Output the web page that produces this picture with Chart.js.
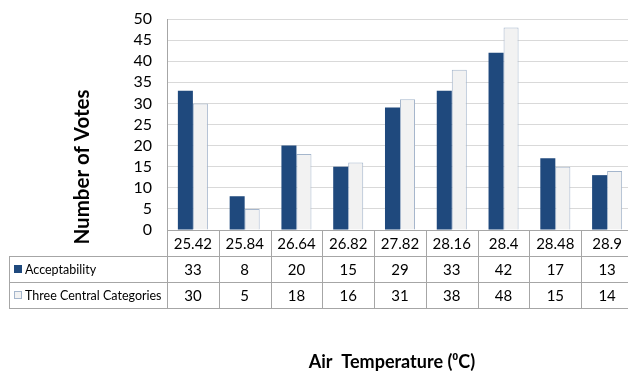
<!DOCTYPE html>
<html>
<head>
<meta charset="utf-8">
<script src="https://cdn.jsdelivr.net/npm/chart.js@4"></script>
<style>
  html, body { margin: 0; padding: 0; background: #fff; overflow: hidden; }
  #frame { width: 628px; height: 372px; overflow: hidden; }
  #wrap { width: 640px; height: 372px; }
</style>
</head>
<body>
<div id="frame"><div id="wrap"><canvas id="myChart"></canvas></div></div>
<script>
const temps = ["25.42", "25.84", "26.64", "26.82", "27.82", "28.16", "28.4", "28.48", "28.9"];
const acceptability = [33, 8, 20, 15, 29, 33, 42, 17, 13];
const centralCats = [30, 5, 18, 16, 31, 38, 48, 15, 14];
const seriesNames = ["Acceptability", "Three Central Categories"];
const yMax = 50;
const yStep = 5;

const FONT = "Lato, 'Noto Sans', sans-serif";
const DARK = "#1f497d";
const LIGHT = "#f2f2f2";
const LIGHT_EDGE = "#a5b6cc";
const LINE = "#a6a6a6";

// draws the data table under the plot, plus both axis titles
const tablePlugin = {
  id: "dataTable",
  afterDraw(chart) {
    const ctx = chart.ctx;
    const xs = chart.scales.x;
    const ys = chart.scales.y;
    const left = xs.left, right = xs.right;
    const colW = (right - left) / temps.length;
    const rowH = 26;
    const top = ys.bottom;
    const tableLeft = 9;
    const rows = [top, top + rowH, top + rowH * 2, top + rowH * 3];

    ctx.save();
    ctx.strokeStyle = LINE;
    ctx.lineWidth = 1;
    ctx.beginPath();
    ctx.moveTo(left, rows[0] + 0.5); ctx.lineTo(right, rows[0] + 0.5);
    for (let r = 1; r < 4; r++) {
      ctx.moveTo(tableLeft, rows[r] + 0.5); ctx.lineTo(right, rows[r] + 0.5);
    }
    for (let i = 0; i <= temps.length; i++) {
      const x = Math.round(left + i * colW) + 0.5;
      ctx.moveTo(x, rows[0]); ctx.lineTo(x, rows[3]);
    }
    ctx.moveTo(tableLeft + 0.5, rows[1]); ctx.lineTo(tableLeft + 0.5, rows[3]);
    ctx.stroke();

    ctx.fillStyle = "#000";
    ctx.textBaseline = "middle";
    ctx.textAlign = "center";
    ctx.font = "15px " + FONT;
    const series = [acceptability, centralCats];
    temps.forEach((t, i) => {
      const cx = xs.getPixelForValue(i);
      ctx.fillText(t, cx, rows[0] + rowH / 2 + 1);
      series.forEach((s, k) => ctx.fillText(String(s[i]), cx, rows[k + 1] + rowH / 2 + 1));
    });

    // legend keys and names
    ctx.textAlign = "left";
    ctx.font = "12.5px " + FONT;
    seriesNames.forEach((name, k) => {
      const cy = rows[k + 1] + rowH / 2;
      if (k === 0) {
        ctx.fillStyle = DARK;
        ctx.fillRect(14, cy - 4, 8, 8);
      } else {
        ctx.fillStyle = LIGHT;
        ctx.fillRect(14, cy - 4, 8, 8);
        ctx.strokeStyle = LIGHT_EDGE;
        ctx.strokeRect(14.5, cy - 3.5, 7, 7);
      }
      ctx.fillStyle = "#000";
      ctx.fillText(name, 25, cy + 1);
    });

    // axis titles
    ctx.font = "bold 18px " + FONT;
    ctx.textAlign = "center";
    ctx.fillText("Air  Temperature (\u2070C)", 392, 362);
    ctx.font = "bold 20.5px " + FONT;
    ctx.translate(82, 167);
    ctx.rotate(-Math.PI / 2);
    ctx.fillText("Number of Votes", 0, 0);
    ctx.restore();
  }
};

new Chart(document.getElementById("myChart"), {
  type: "bar",
  data: {
    labels: temps,
    datasets: [
      {
        label: seriesNames[0],
        data: acceptability,
        backgroundColor: DARK,
        borderWidth: 0,
      },
      {
        label: seriesNames[1],
        data: centralCats,
        backgroundColor: LIGHT,
        borderColor: LIGHT_EDGE,
        borderWidth: 1,
      },
    ],
  },
  options: {
    responsive: true,
    maintainAspectRatio: false,
    animation: false,
    datasets: { bar: { categoryPercentage: 0.58, barPercentage: 1.0 } },
    layout: { padding: { top: 19, right: 7, left: 0, bottom: 0 } },
    plugins: { legend: { display: false }, tooltip: { enabled: false } },
    scales: {
      x: {
        ticks: { display: false },
        grid: { display: false },
        border: { display: false },
        afterFit: (scale) => { scale.height = 142; },
      },
      y: {
        min: 0,
        max: yMax,
        ticks: { stepSize: yStep, autoSkip: false, color: "#000", padding: 15, font: { family: FONT, size: 16 } },
        grid: { color: "#d9d9d9", drawTicks: false },
        border: { color: LINE },
        afterFit: (scale) => {
          scale.width = 167;
          scale.paddingTop = 0;
          scale.paddingBottom = 0;
        },
      },
    },
  },
  plugins: [tablePlugin],
});
</script>
</body>
</html>
